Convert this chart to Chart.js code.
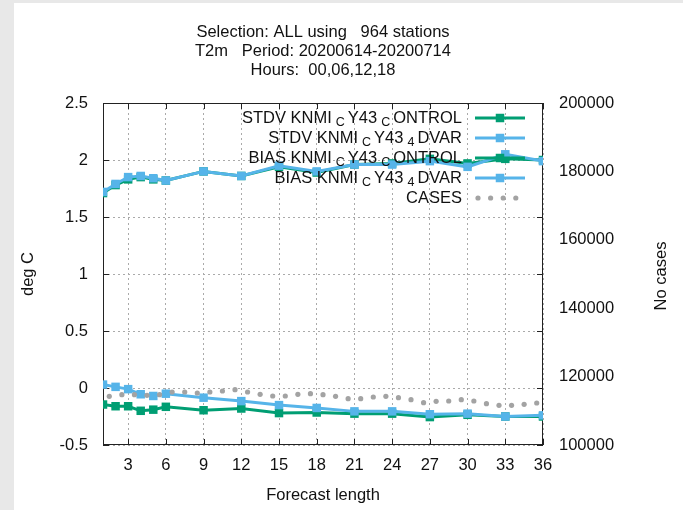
<!DOCTYPE html>
<html>
<head>
<meta charset="utf-8">
<script src="https://cdn.jsdelivr.net/npm/chart.js@4"></script>
<style>
  html, body { margin: 0; padding: 0; background: #e8e8e8; width: 683px; height: 510px; overflow: hidden; }
  #panel { position: absolute; left: 14px; top: 3px; width: 669px; height: 507px; background: #fff; }
  canvas { display: block; }
</style>
</head>
<body>
<div id="panel"><canvas id="c" width="669" height="507"></canvas></div>
<script>
// ---- data -------------------------------------------------------------
const titleLines = [
  'Selection: ALL using   964 stations',
  'T2m   Period: 20200614-20200714',
  'Hours:  00,06,12,18'
];
const xTitle = 'Forecast length';
const yTitle = 'deg C';
const y2Title = 'No cases';

// forecast lengths (hours)
const hours = [1, 2, 3, 4, 5, 6, 9, 12, 15, 18, 21, 24, 27, 30, 33, 36];

const stdvControl = [1.71, 1.78, 1.83, 1.85, 1.83, 1.82, 1.90, 1.86, 1.94, 1.89, 1.96, 1.97, 2.01, 1.97, 2.01, 2.00];
const stdv4dvar   = [1.72, 1.79, 1.85, 1.86, 1.84, 1.82, 1.90, 1.86, 1.95, 1.90, 1.96, 1.96, 1.99, 1.94, 2.05, 1.99];
const biasControl = [-0.145, -0.16, -0.16, -0.20, -0.19, -0.165, -0.195, -0.18, -0.22, -0.215, -0.225, -0.225, -0.255, -0.235, -0.25, -0.25];
const bias4dvar   = [0.03, 0.01, -0.01, -0.055, -0.07, -0.05, -0.085, -0.115, -0.15, -0.175, -0.205, -0.205, -0.23, -0.225, -0.25, -0.24];

// number of cases, plotted between the forecast hours
const casesHours = [1.5, 2.5, 3.5, 4.5, 5.5, 6.5, 7.5, 8.5, 9.5, 10.5, 11.5, 12.5, 13.5, 14.5, 15.5, 16.5, 17.5, 18.5,
                    19.5, 20.5, 21.5, 22.5, 23.5, 24.5, 25.5, 26.5, 27.5, 28.5, 29.5, 30.5, 31.5, 32.5, 33.5, 34.5, 35.5];
const cases = [114240, 114710, 114710, 114530, 114710, 115500, 115500, 115200, 115500, 115790, 116170, 115500, 114820,
               114330, 114330, 114820, 115000, 114710, 114240, 113540, 113540, 114040, 114240, 113830, 113250, 112370,
               112780, 112870, 113250, 112870, 112080, 111610, 111610, 111900, 112280];

const seriesNames = ['STDV KNMI_CY43_CONTROL', 'STDV KNMI_CY43_4DVAR', 'BIAS KNMI_CY43_CONTROL', 'BIAS KNMI_CY43_4DVAR', 'CASES'];

// ticks
const xTicks  = [3, 6, 9, 12, 15, 18, 21, 24, 27, 30, 33, 36];
const yTicks  = [-0.5, 0, 0.5, 1, 1.5, 2, 2.5];
const y2Ticks = [100000, 120000, 140000, 160000, 180000, 200000];

// ---- styling ----------------------------------------------------------
const GREEN = '#009e73';
const BLUE = '#56b4e9';
const GREY = '#a3a3a3';
const INK = '#111111';
const FONT = '"Liberation Sans", Arial, sans-serif';
const FS = 16.5;   // main text size
const SUB = 12.5;  // subscript size

Chart.defaults.font.family = FONT;
Chart.defaults.font.size = FS;
Chart.defaults.color = INK;

const pairs = (xs, ys) => xs.map((x, i) => ({ x: x, y: ys[i] }));

function lineSet(label, values, color, order) {
  return {
    label: label,
    data: pairs(hours, values),
    borderColor: color,
    backgroundColor: color,
    borderWidth: 3,
    pointStyle: 'rect',
    pointRadius: 6,
    pointHoverRadius: 6,
    pointBorderWidth: 0,
    tension: 0,
    yAxisID: 'y',
    order: order
  };
}

// split a gnuplot-style label: '_' puts the following character in subscript
function labelParts(text) {
  const parts = [];
  let buf = '';
  for (let i = 0; i < text.length; i++) {
    if (text[i] === '_' && i + 1 < text.length) {
      if (buf) parts.push({ t: buf, sub: false });
      buf = '';
      parts.push({ t: text[i + 1], sub: true });
      i++;
    } else {
      buf += text[i];
    }
  }
  if (buf) parts.push({ t: buf, sub: false });
  return parts;
}

const decor = {
  id: 'decor',
  beforeDatasetsDraw(chart) {
    const { ctx, chartArea: a, scales } = chart;
    ctx.save();
    ctx.strokeStyle = '#222222';
    ctx.lineWidth = 1;
    ctx.strokeRect(a.left + 0.5, a.top + 0.5, a.right - a.left - 1, a.bottom - a.top - 1);
    ctx.beginPath();
    const L = 6;
    scales.x.ticks.forEach(t => {
      const px = Math.round(scales.x.getPixelForValue(t.value)) + 0.5;
      ctx.moveTo(px, a.bottom); ctx.lineTo(px, a.bottom - L);
      ctx.moveTo(px, a.top); ctx.lineTo(px, a.top + L);
    });
    scales.y.ticks.forEach(t => {
      const py = Math.round(scales.y.getPixelForValue(t.value)) + 0.5;
      ctx.moveTo(a.left, py); ctx.lineTo(a.left + L, py);
      ctx.moveTo(a.right, py); ctx.lineTo(a.right - L, py);
    });
    ctx.stroke();
    ctx.restore();
  },
  afterDatasetsDraw(chart) {
    const { ctx, chartArea: a } = chart;
    ctx.save();
    const textRight = a.right - 81;
    const sampleL = a.right - 68, sampleR = a.right - 18, sampleMid = a.right - 43;
    chart.data.datasets.forEach((ds, i) => {
      const y = a.top + 15 + i * 20;
      const parts = labelParts(ds.label);
      // measure
      let width = 0;
      parts.forEach(p => {
        ctx.font = (p.sub ? SUB : FS) + 'px ' + FONT;
        p.w = ctx.measureText(p.t).width;
        p.gapL = p.sub ? 4 : 0;
        p.gapR = p.sub ? 3 : 0;
        width += p.w + p.gapL + p.gapR;
      });
      let x = textRight - width;
      ctx.fillStyle = INK;
      ctx.textAlign = 'left';
      ctx.textBaseline = 'middle';
      parts.forEach(p => {
        ctx.font = (p.sub ? SUB : FS) + 'px ' + FONT;
        x += p.gapL;
        ctx.fillText(p.t, x, p.sub ? y + 4.5 : y);
        x += p.w + p.gapR;
      });
      if (ds.showLine === false) {
        ctx.fillStyle = ds.backgroundColor;
        for (let k = 0; k < 4; k++) {
          ctx.beginPath();
          ctx.arc(sampleL + 3 + k * 12.6, y, 2.6, 0, Math.PI * 2);
          ctx.fill();
        }
      } else {
        ctx.strokeStyle = ds.borderColor;
        ctx.lineWidth = 3;
        ctx.beginPath();
        ctx.moveTo(sampleL, y); ctx.lineTo(sampleR, y);
        ctx.stroke();
        ctx.fillStyle = ds.borderColor;
        ctx.fillRect(sampleMid - 4.25, y - 4.25, 8.5, 8.5);
      }
    });
    ctx.restore();
  },
  afterDraw(chart) {
    const { ctx, chartArea: a } = chart;
    ctx.save();
    ctx.fillStyle = INK;
    ctx.font = FS + 'px ' + FONT;
    ctx.textAlign = 'center';
    ctx.textBaseline = 'middle';
    const cx = (a.left + a.right) / 2;
    titleLines.forEach((line, i) => ctx.fillText(line, cx, 29 + i * 19));
    ctx.translate(a.right + 118, (a.top + a.bottom) / 2 + 2);
    ctx.rotate(-Math.PI / 2);
    ctx.fillText(y2Title, 0, 0);
    ctx.restore();
  }
};

new Chart(document.getElementById('c'), {
  type: 'line',
  data: {
    datasets: [
      lineSet(seriesNames[0], stdvControl, GREEN, 5),
      lineSet(seriesNames[1], stdv4dvar, BLUE, 4),
      lineSet(seriesNames[2], biasControl, GREEN, 3),
      lineSet(seriesNames[3], bias4dvar, BLUE, 2),
      {
        label: seriesNames[4],
        data: pairs(casesHours, cases),
        showLine: false,
        backgroundColor: GREY,
        borderColor: GREY,
        pointStyle: 'circle',
        pointRadius: 2.6,
        pointHoverRadius: 2.6,
        pointBorderWidth: 0,
        yAxisID: 'y2',
        order: 1
      }
    ]
  },
  options: {
    responsive: false,
    animation: false,
    devicePixelRatio: 1,
    events: [],
    layout: { padding: { top: 100, left: 0, right: 0, bottom: 0 }, autoPadding: false },
    plugins: { legend: { display: false }, title: { display: false }, tooltip: { enabled: false } },
    scales: {
      x: {
        type: 'linear',
        min: 1,
        max: 36,
        afterBuildTicks: s => { s.ticks = xTicks.map(v => ({ value: v })); },
        afterFit: s => { s.height = 65; },
        grid: { color: '#aaaaaa', lineWidth: 1, drawTicks: false },
        border: { display: false, dash: [2, 3] },
        ticks: { padding: 11, maxRotation: 0, autoSkip: false, callback: v => String(v) },
        title: { display: true, text: xTitle, padding: { top: 0, bottom: 5 } }
      },
      y: {
        position: 'left',
        min: -0.5,
        max: 2.5,
        afterBuildTicks: s => { s.ticks = yTicks.map(v => ({ value: v })); },
        afterFit: s => { s.width = 89; },
        grid: { color: '#aaaaaa', lineWidth: 1, drawTicks: false },
        border: { display: false, dash: [2, 3] },
        ticks: { padding: 15, callback: v => String(v) },
        title: { display: true, text: yTitle, padding: { top: 5, bottom: 0 } }
      },
      y2: {
        position: 'right',
        min: 100000,
        max: 200000,
        afterBuildTicks: s => { s.ticks = y2Ticks.map(v => ({ value: v })); },
        afterFit: s => { s.width = 140; },
        grid: { drawOnChartArea: false, drawTicks: false },
        border: { display: false },
        ticks: { padding: 16, callback: v => String(v) }
      }
    }
  },
  plugins: [decor]
});
</script>
</body>
</html>
